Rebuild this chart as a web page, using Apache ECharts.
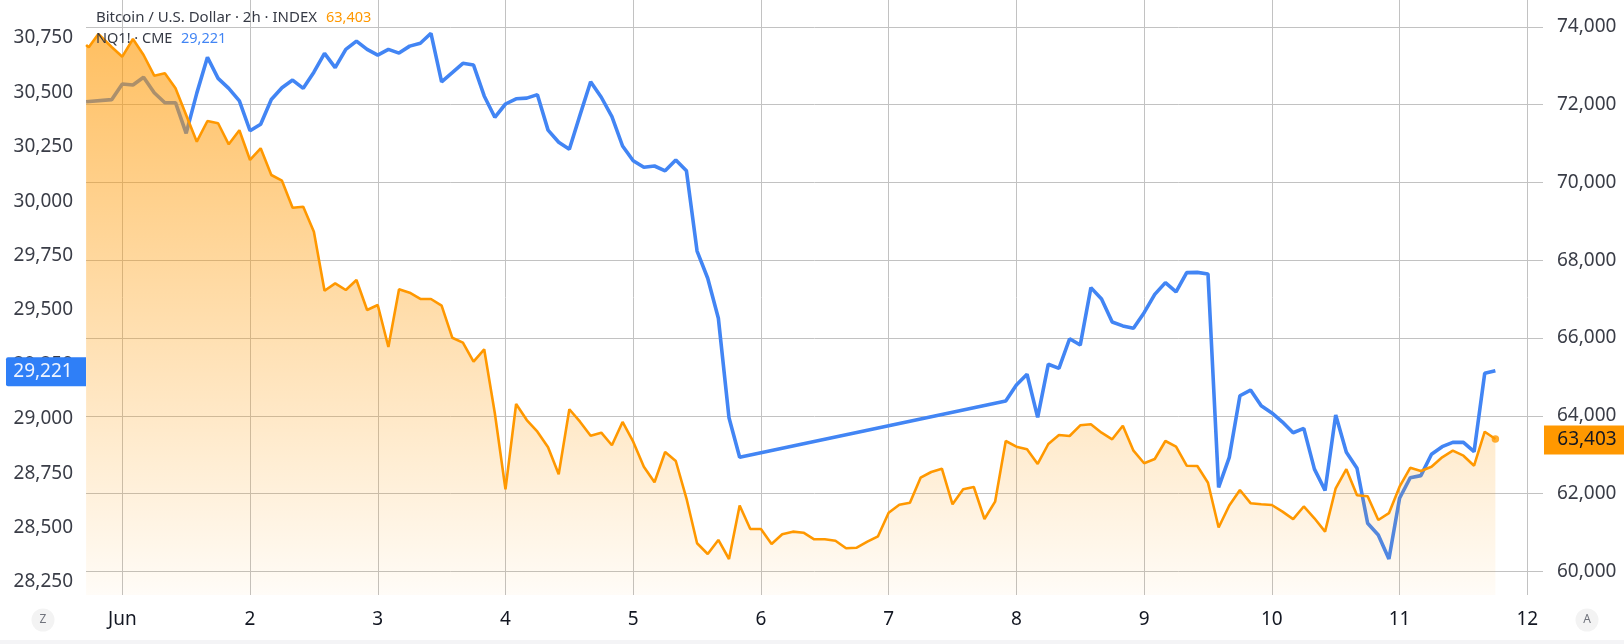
<!DOCTYPE html>
<html>
<head>
<meta charset="utf-8">
<style>
  html, body { margin: 0; padding: 0; background: #fff; }
  #chart-panel { width: 1624px; height: 644px; }
</style>
<script src="https://cdn.jsdelivr.net/npm/echarts@6/dist/echarts.min.js"></script>
</head>
<body>
<div id="chart-panel"></div>
<script>
// hours counted from 1 Jun 00:00
var btcHours = [-6.8, -6.3, -4.5, -2,
  0, 2, 4, 6, 8, 10, 12, 14, 16, 18, 20, 22,
  24, 26, 28, 30, 32, 34, 36, 38, 40, 42, 44, 46,
  48, 50, 52, 54, 56, 58, 60, 62, 64, 66, 68, 70,
  72, 74, 76, 78, 80, 82, 84, 86, 88, 90, 92, 94,
  96, 98, 100, 102, 104, 106, 108, 110, 112, 114, 116, 118,
  120, 122, 124, 126, 128, 130, 132, 134, 136, 138, 140, 142,
  144, 146, 148, 150, 152, 154, 156, 158, 160, 162, 164, 166,
  168, 170, 172, 174, 176, 178, 180, 182, 184, 186, 188, 190,
  192, 194, 196, 198, 200, 202, 204, 206, 208, 210, 212, 214,
  216, 218, 220, 222, 224, 226, 228, 230, 232, 234, 236, 238,
  240, 242, 244, 246, 248, 250, 252, 254, 256, 258];
var btcValues = [73536, 73477, 73819, 73485,
  73236, 73691, 73279, 72747, 72809, 72423, 71736, 71049, 71582, 71523, 70982, 71343,
  70579, 70880, 70193, 70046, 69352, 69378, 68735, 67217, 67407, 67235, 67492, 66721,
  66849, 65769, 67253, 67166, 67004, 67004, 66831, 66008, 65880, 65391, 65710, 64064,
  62109, 64303, 63891, 63591, 63189, 62495, 64167, 63848, 63488, 63565, 63241, 63840,
  63333, 62690, 62289, 63068, 62837, 61878, 60720, 60445, 60805, 60316, 61692, 61088,
  61088, 60702, 60952, 61019, 60993, 60823, 60823, 60787, 60592, 60607, 60761, 60900,
  61507, 61713, 61764, 62407, 62554, 62639, 61723, 62109, 62168, 61345, 61790, 63351,
  63205, 63138, 62760, 63274, 63506, 63480, 63755, 63781, 63565, 63395, 63745, 63102,
  62778, 62888, 63351, 63205, 62716, 62708, 62279, 61127, 61692, 62091, 61752, 61723,
  61705, 61533, 61340, 61667, 61363, 61019, 62135, 62626, 61957, 61932, 61319, 61494,
  62176, 62662, 62580, 62690, 62932, 63102, 62973, 62716, 63590, 63403];

var nqHours = [-6.8, -2,
  0, 2, 4, 6, 8, 10, 12, 14, 16, 18, 20, 22,
  24, 26, 28, 30, 32, 34, 36, 38, 40, 42, 44, 46,
  48, 50, 52, 54, 56, 58, 60, 62, 64, 66, 68, 70,
  72, 74, 76, 78, 80, 82, 84, 86, 88, 90, 92, 94,
  96, 98, 100, 102, 104, 106, 108, 110, 112, 114, 116,
  166, 168, 170, 172, 174, 176, 178, 180, 182, 184, 186, 188,
  190, 192, 194, 196, 198, 200, 202, 204, 206, 208, 210, 212,
  214, 216, 218, 220, 222, 224, 226, 228, 230, 232, 234, 236,
  238, 240, 242, 244, 246, 248, 250, 252, 254, 256, 258];
var nqValues = [30457, 30467,
  30539, 30534, 30570, 30499, 30453, 30453, 30312, 30497, 30662, 30565, 30519, 30461,
  30324, 30354, 30468, 30522, 30557, 30519, 30593, 30680, 30614, 30698, 30736, 30698,
  30672, 30698, 30681, 30713, 30726, 30772, 30549, 30591, 30634, 30626, 30484, 30386,
  30447, 30471, 30474, 30490, 30327, 30271, 30239, 30396, 30549, 30478, 30389, 30254,
  30186, 30156, 30162, 30140, 30190, 30140, 29771, 29646, 29462, 29005, 28823,
  29082, 29155, 29205, 29007, 29251, 29232, 29368, 29339, 29603, 29551, 29445, 29427,
  29416, 29488, 29572, 29626, 29584, 29672, 29673, 29666, 28685, 28823, 29106, 29132,
  29060, 29027, 28985, 28936, 28956, 28769, 28671, 29018, 28846, 28773, 28520, 28466,
  28356, 28635, 28729, 28739, 28837, 28872, 28892, 28892, 28849, 29209, 29221];

var dayTicks = [0, 24, 48, 72, 96, 120, 144, 168, 192, 216, 240, 264];
var nqTicks = [28250, 28500, 28750, 29000, 29250, 29500, 29750, 30000, 30250, 30500, 30750];
var btcTicks = [60000, 62000, 64000, 66000, 68000, 70000, 72000, 74000];

var FONT = '"Noto Sans", sans-serif';
var labelColor = '#3a3d47';
var gridColor = '#c2c2c2';
var blue = '#4285f4';
var orange = '#ff9800';

function zip(xs, ys) {
    return xs.map(function (x, i) {
        return [x, ys[i]];
    });
}

var lastHour = btcHours[btcHours.length - 1];
var lastBtc = btcValues[btcValues.length - 1];
var lastNq = nqValues[nqValues.length - 1];

var chartOption = {
    backgroundColor: '#fff',
    animation: false,
    grid: { left: 86, right: 81, top: 0, bottom: 49, show: false },
    xAxis: {
        type: 'value',
        min: -6.82,
        max: 266.95,
        axisLine: { show: false },
        axisTick: { show: false, customValues: dayTicks },
        axisLabel: {
            customValues: dayTicks,
            color: '#131722',
            fontFamily: FONT,
            fontSize: 19,
            margin: 15,
            hideOverlap: false,
            formatter: function (value) {
                return value === 0 ? 'Jun' : String(value / 24 + 1);
            }
        },
        splitLine: { show: true, lineStyle: { color: gridColor, width: 1 } }
    },
    yAxis: [{
        type: 'value',
        position: 'left',
        min: 28190.3,
        max: 30925,
        axisLine: { show: false },
        axisTick: { show: false, customValues: nqTicks },
        axisLabel: {
            customValues: nqTicks,
            color: labelColor,
            fontFamily: FONT,
            fontSize: 19,
            margin: 13,
            formatter: function (value) {
                return value.toLocaleString('en-US');
            }
        },
        splitLine: { show: false }
    }, {
        type: 'value',
        position: 'right',
        min: 59390,
        max: 74694,
        axisLine: { show: false },
        axisTick: { show: false, customValues: btcTicks },
        axisLabel: {
            customValues: btcTicks,
            color: labelColor,
            fontFamily: FONT,
            fontSize: 19,
            margin: 14,
            formatter: function (value) {
                return value.toLocaleString('en-US');
            }
        },
        splitLine: { show: true, lineStyle: { color: gridColor, width: 1 } }
    }],
    series: [{
        name: 'NQ1!',
        type: 'line',
        z: 1,
        yAxisIndex: 0,
        showSymbol: false,
        lineStyle: { color: blue, width: 3.6 },
        data: zip(nqHours, nqValues)
    }, {
        name: 'Bitcoin / U.S. Dollar',
        type: 'line',
        z: 2,
        yAxisIndex: 1,
        showSymbol: false,
        lineStyle: { color: orange, width: 2.6 },
        areaStyle: {
            origin: 'start',
            opacity: 1,
            color: new echarts.graphic.LinearGradient(0, 0, 0, 1, [{
                offset: 0,
                color: 'rgba(255,152,0,0.62)'
            }, {
                offset: 1,
                color: 'rgba(255,152,0,0.03)'
            }])
        },
        data: zip(btcHours, btcValues)
    }, {
        type: 'scatter',
        z: 3,
        yAxisIndex: 1,
        symbolSize: 7.5,
        itemStyle: { color: orange },
        data: [[lastHour, lastBtc]]
    }]
};

var myChart = echarts.init(document.getElementById('chart-panel'));
myChart.setOption(chartOption);

function legendText(x, y, text, color, size) {
    return {
        type: 'text',
        x: x,
        y: y,
        z: 50,
        style: {
            text: text,
            fill: color,
            font: size + 'px ' + FONT,
            textVerticalAlign: 'middle'
        }
    };
}

// price tags sit on the last values
function priceTag(x, yCenter, width, textX, text, bg, fg, radius) {
    return [{
        type: 'rect',
        z: 60,
        shape: { x: x, y: yCenter - 14.5, width: width, height: 29, r: radius },
        style: { fill: bg }
    }, {
        type: 'text',
        z: 61,
        x: textX,
        y: yCenter,
        style: {
            text: text,
            fill: fg,
            font: '19px ' + FONT,
            textAlign: 'center',
            textVerticalAlign: 'middle'
        }
    }];
}

function roundButton(cx, text) {
    return [{
        type: 'circle',
        z: 60,
        shape: { cx: cx, cy: 620, r: 11.5 },
        style: { fill: '#f3f3f3' }
    }, {
        type: 'text',
        z: 61,
        x: cx,
        y: 620,
        style: {
            text: text,
            fill: '#70737c',
            font: '12px ' + FONT,
            textAlign: 'center',
            textVerticalAlign: 'middle'
        }
    }];
}

var nqY = myChart.convertToPixel({ yAxisIndex: 0 }, lastNq) + 1;
var btcY = myChart.convertToPixel({ yAxisIndex: 1 }, lastBtc) + 1;

myChart.setOption({
    graphic: [
        legendText(96, 18, 'Bitcoin / U.S. Dollar · 2h · INDEX', '#363a45', 15),
        legendText(326, 18, lastBtc.toLocaleString('en-US'), orange, 14.5),
        legendText(96, 39, 'NQ1! · CME', '#363a45', 14.5),
        legendText(181, 39, lastNq.toLocaleString('en-US'), blue, 14.5),
        { type: 'rect', z: 40, shape: { x: 0, y: 640, width: 1624, height: 4 }, style: { fill: '#f4f4f6' } }
    ].concat(
        priceTag(6, nqY, 80, 43, lastNq.toLocaleString('en-US'), '#2f7ff7', '#eef4ff', [2, 0, 0, 2]),
        priceTag(1544, btcY, 80, 1587, lastBtc.toLocaleString('en-US'), orange, '#131722', 0),
        roundButton(43, 'Z'),
        roundButton(1587, 'A')
    )
});
</script>
</body>
</html>
